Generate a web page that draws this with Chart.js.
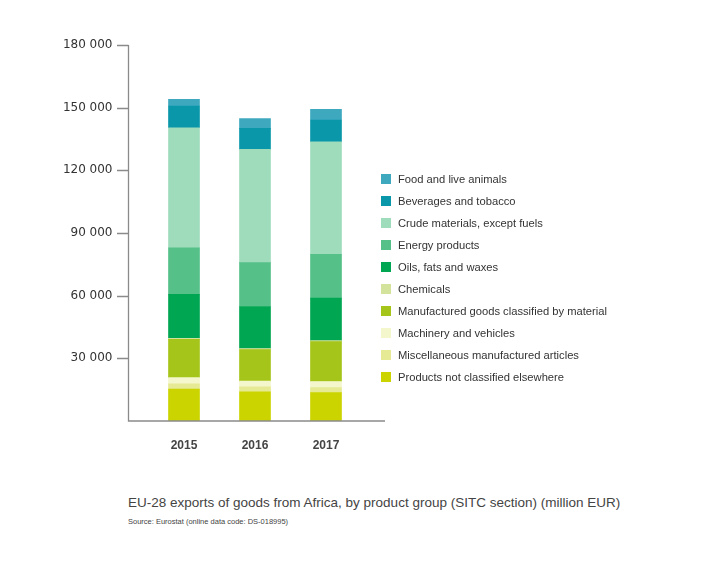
<!DOCTYPE html>
<html>
<head>
<meta charset="utf-8">
<script src="https://cdn.jsdelivr.net/npm/chart.js@4.4.1/dist/chart.umd.min.js"></script>
<style>
  html, body { margin: 0; padding: 0; background: #fff; }
  #wrap { position: relative; width: 719px; height: 573px; overflow: hidden; }
  #chart { position: absolute; left: 0; top: 0; }
  #legend { position: absolute; left: 381px; top: 173px; font: 11.2px "Liberation Sans", Arial, sans-serif; color: #333; }
  .item { height: 22px; display: flex; align-items: flex-start; }
  .box { width: 10px; height: 10px; margin-top: 1px; margin-right: 7px; }
  .item span { line-height: 12px; }
  #title { position: absolute; left: 128px; top: 495px; font: 13.5px "Liberation Sans", Arial, sans-serif; color: #444; white-space: nowrap; }
  #source { position: absolute; left: 128px; top: 517px; font: 7.5px "Liberation Sans", Arial, sans-serif; color: #444; white-space: nowrap; }
</style>
</head>
<body>
<div id="wrap">
  <canvas id="chart" width="400" height="470"></canvas>
  <div id="legend"></div>
  <div id="title">EU-28 exports of goods from Africa, by product group (SITC section) (million EUR)</div>
  <div id="source">Source: Eurostat (online data code: DS-018995)</div>
</div>
<script>
// valores em milhões de EUR
const years = ['2015', '2016', '2017'];
const products = [15300, 14000, 13600];
const misc = [2500, 2300, 2400];
const machinery = [3000, 2800, 2900];
const manufactured = [18300, 15100, 19100];
const chemicals = [500, 500, 500];
const oils = [21000, 20100, 20400];
const energy = [22300, 21000, 20900];
const crude = [57500, 54200, 53900];
const beverages = [10400, 10100, 10400];
const food = [3200, 4700, 5100];

const yTicks = [0, 30000, 60000, 90000, 120000, 150000, 180000];

// ordem de empilhamento: de baixo para cima
const series = [
    { label: 'Products not classified elsewhere', data: products, color: '#ccd400' },
    { label: 'Miscellaneous manufactured articles', data: misc, color: '#e6ea94' },
    { label: 'Machinery and vehicles', data: machinery, color: '#f4f7cb' },
    { label: 'Manufactured goods classified by material', data: manufactured, color: '#a5c51a' },
    { label: 'Chemicals', data: chemicals, color: '#d4e39b' },
    { label: 'Oils, fats and waxes', data: oils, color: '#00a651' },
    { label: 'Energy products', data: energy, color: '#55c188' },
    { label: 'Crude materials, except fuels', data: crude, color: '#9fdcbc' },
    { label: 'Beverages and tobacco', data: beverages, color: '#0a97aa' },
    { label: 'Food and live animals', data: food, color: '#3ea8bf' }
];

function fmt(v) {
    return String(v).replace(/\B(?=(\d{3})+(?!\d))/g, ' ');
}

// eixos desenhados à mão (linha vertical, marcas e linha base)
const axisLines = {
    id: 'axisLines',
    afterDraw(chart) {
        const ctx = chart.ctx;
        const y = chart.scales.y;
        const area = chart.chartArea;
        const ax = 128.5;
        ctx.save();
        ctx.strokeStyle = '#8a8a8a';
        ctx.lineWidth = 1.3;
        ctx.beginPath();
        ctx.moveTo(ax, y.getPixelForValue(180000));
        ctx.lineTo(ax, area.bottom);
        ctx.lineTo(385, area.bottom);
        yTicks.forEach(function(t) {
            if (t === 0) return;
            const py = Math.round(y.getPixelForValue(t)) + 0.5;
            ctx.moveTo(117, py);
            ctx.lineTo(ax, py);
        });
        ctx.stroke();
        ctx.restore();
    }
};

new Chart(document.getElementById('chart'), {
    type: 'bar',
    data: {
        labels: years,
        datasets: series.map(function(s) {
            return {
                label: s.label,
                data: s.data,
                backgroundColor: s.color,
                borderWidth: 0,
                barThickness: 31
            };
        })
    },
    options: {
        responsive: false,
        animation: false,
        devicePixelRatio: 1,
        layout: { padding: { top: 45, left: 0, right: 38.5, bottom: 0 } },
        plugins: {
            legend: { display: false },
            tooltip: { enabled: false }
        },
        scales: {
            x: {
                stacked: true,
                grid: { display: false, drawTicks: false },
                border: { display: false },
                ticks: {
                    padding: 17,
                    color: '#444',
                    font: { family: 'Liberation Sans', size: 12, weight: 'bold' }
                },
                afterFit: function(scale) { scale.height = 49; }
            },
            y: {
                stacked: true,
                min: 0,
                max: 180000,
                afterBuildTicks: function(scale) {
                    scale.ticks = yTicks.map(function(v) { return { value: v }; });
                },
                grid: { display: false, drawTicks: false },
                border: { display: false },
                ticks: {
                    padding: 36,
                    color: '#333',
                    font: { family: 'DejaVu Sans', size: 12 },
                    callback: function(v) { return v === 0 ? '' : fmt(v); }
                },
                afterFit: function(scale) { scale.width = 148.5; }
            }
        }
    },
    plugins: [axisLines]
});

// legenda em HTML, na mesma ordem do topo da pilha para baixo
const legend = document.getElementById('legend');
series.slice().reverse().forEach(function(s) {
    const row = document.createElement('div');
    row.className = 'item';
    row.innerHTML = '<div class="box" style="background:' + s.color + '"></div><span>' + s.label + '</span>';
    legend.appendChild(row);
});
</script>
</body>
</html>
